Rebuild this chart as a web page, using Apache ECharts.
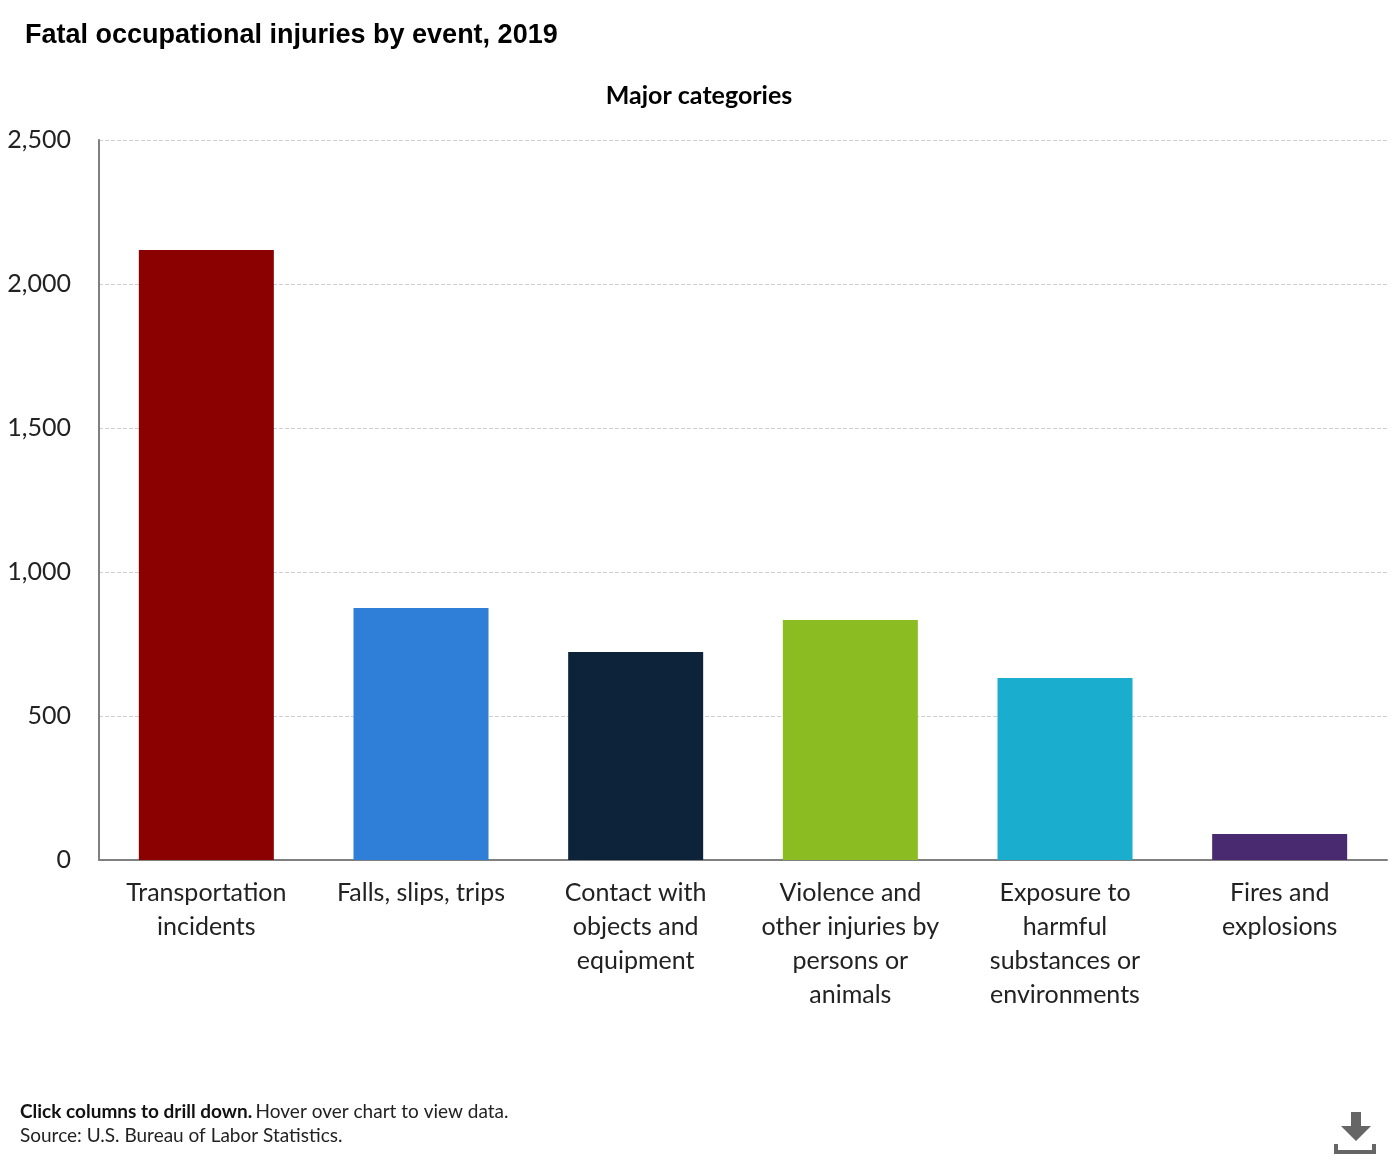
<!DOCTYPE html>
<html><head><meta charset="utf-8">
<style>html,body{margin:0;padding:0;background:#fff}#c{width:1400px;height:1160px}</style>
<script src="https://cdn.jsdelivr.net/npm/echarts@6/dist/echarts.min.js"></script></head>
<body><div id="c"></div>
<script>
const categories = ['Transportation\nincidents','Falls, slips, trips','Contact with\nobjects and\nequipment','Violence and\nother injuries by\npersons or\nanimals','Exposure to\nharmful\nsubstances or\nenvironments','Fires and\nexplosions'];
const values = [2118, 875, 722, 833, 632, 90];
const colors = ['#8b0000','#2f7ed8','#0d233a','#8bbc21','#1aadce','#492970'];
const titleText = 'Fatal occupational injuries by event, 2019';
const subtitleText = 'Major categories';
const bodyFont = 'Lato';
const chart = echarts.init(document.getElementById('c'), null, {renderer:'canvas'});
chart.setOption({
  animation:false,
  backgroundColor:'#fff',
  title:[
    {text:titleText,left:20,top:17,textStyle:{fontFamily:'Liberation Sans',fontWeight:'bold',fontSize:27,color:'#000'}},
    {text:subtitleText,left:694,textAlign:'center',top:78,textStyle:{fontFamily:bodyFont,fontWeight:'bold',fontSize:25,color:'#000'}}
  ],
  grid:{left:99,right:13,top:140,bottom:300,containLabel:false},
  xAxis:{type:'category',data:categories,
    axisLine:{lineStyle:{color:'#808080',width:2}},axisTick:{show:false},
    axisLabel:{interval:0,margin:16,color:'#222',fontFamily:bodyFont,fontSize:25,lineHeight:34,verticalAlign:'top'}},
  yAxis:{type:'value',min:0,max:2500,interval:500,
    axisLine:{show:true,lineStyle:{color:'#808080',width:2}},axisTick:{show:false},
    axisLabel:{margin:28,color:'#222',fontFamily:bodyFont,fontSize:25,formatter:v=>v.toLocaleString('en-US')},
    splitLine:{lineStyle:{color:'#d0d0d0',type:'dashed',width:1}}},
  series:[{type:'bar',barWidth:135,
    data:values.map((v,i)=>({value:v,itemStyle:{color:colors[i]}}))}],
  graphic:[
    {type:'text',left:20,top:1102,style:{rich:{b:{fontWeight:'bold',fontFamily:bodyFont,fontSize:19,fill:'#111'},n:{fontFamily:bodyFont,fontSize:19,fill:'#222'}},text:'{b|Click columns to drill down.} {n|Hover over chart to view data.}'}},
    {type:'text',left:20,top:1126,style:{text:'Source: U.S. Bureau of Labor Statistics.',fontFamily:bodyFont,fontSize:19,fill:'#222'}},
    {type:'polygon',shape:{points:[[1351,1112],[1361,1112],[1361,1126],[1371,1126],[1356,1141],[1341,1126],[1351,1126]]},style:{fill:'#666'}},
    {type:'polygon',shape:{points:[[1334,1144],[1338,1144],[1338,1150],[1372,1150],[1372,1144],[1376,1144],[1376,1154],[1334,1154]]},style:{fill:'#666'}}
  ]
});
</script></body></html>
